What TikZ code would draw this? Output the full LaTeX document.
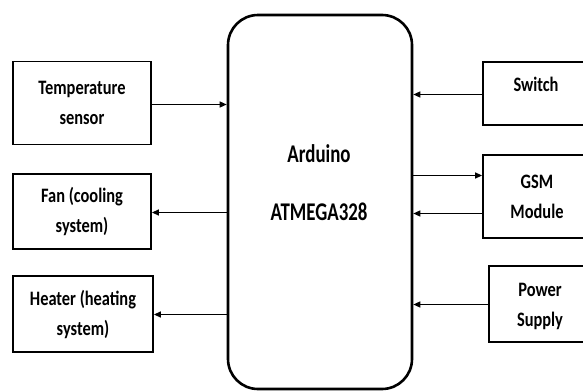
\documentclass[tikz,border=0pt]{standalone}
\usepackage{fontspec}
\setmainfont{Carlito}[FakeStretch=0.8]
\newfontfamily\ardfont{Carlito}[FakeStretch=0.74]
\usetikzlibrary{arrows.meta}
\begin{document}
\begin{tikzpicture}[x=1pt,y=-1pt,
  blk/.style={draw,line width=1.8pt,inner sep=0pt,align=center,
    font=\bfseries\fontsize{20.5}{30}\selectfont},
  arr/.style={line width=1.3pt,-{Triangle[length=7pt,width=6pt]}},
  lbl/.style={inner sep=0pt,align=center,font=\bfseries\fontsize{20.5}{30}\selectfont}]
\useasboundingbox (0,0) rectangle (583,391);
\clip (0,0) rectangle (583,391);
\node[draw,line width=2.6pt,rounded corners=30pt,minimum width=184pt,minimum height=374pt] (ard) at (320,202) {};
\node[lbl,font=\ardfont\bfseries\fontsize{25.5}{58}\selectfont] (ardt) at (319,183) {Arduino\\ATMEGA328};
\node[blk,minimum width=138pt,minimum height=83pt] (temp) at (82,103) {Temperature\\sensor};
\node[blk,minimum width=138pt,minimum height=75pt] (fan) at (82,211.5) {Fan (cooling\\system)};
\node[blk,minimum width=140pt,minimum height=76pt] (heat) at (83,314) {Heater (heating\\system)};
\node[blk,minimum width=117pt,minimum height=63pt] (sw) at (541.5,93.5) {};
\node[lbl] (swt) at (536,84) {Switch};
\node[blk,minimum width=117pt,minimum height=83pt] (gsm) at (541.5,196.5) {};
\node[lbl] (gsmt) at (537,197) {GSM\\Module};
\node[blk,minimum width=111pt,minimum height=76pt] (pow) at (544.5,304) {};
\node[lbl] (powt) at (540,306) {Power\\Supply};
\coordinate (t1) at (temp.east |- 0,104.5);
\coordinate (f1) at (fan.east |- 0,212.5);
\coordinate (h1) at (heat.east |- 0,314.5);
\coordinate (s1) at (sw.west |- 0,94.5);
\coordinate (g1) at (gsm.west |- 0,175.5);
\coordinate (g2) at (gsm.west |- 0,213.5);
\coordinate (p1) at (pow.west |- 0,304.5);
\draw[arr] (t1) -- (ard.west |- t1);
\draw[arr] (ard.west |- f1) -- (f1);
\draw[arr] (ard.west |- h1) -- (h1);
\draw[arr] (s1) -- (ard.east |- s1);
\draw[arr] (ard.east |- g1) -- (g1);
\draw[arr] (g2) -- (ard.east |- g2);
\draw[arr] (p1) -- (ard.east |- p1);
\end{tikzpicture}
\end{document}
